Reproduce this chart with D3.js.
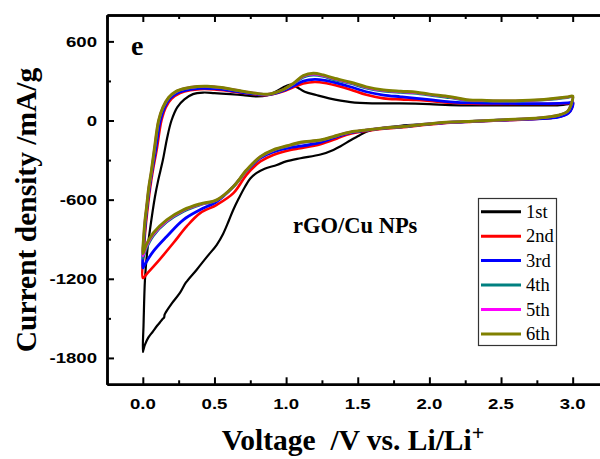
<!DOCTYPE html>
<html><head><meta charset="utf-8">
<script src="https://cdn.jsdelivr.net/npm/d3@7"></script>
<style>html,body{margin:0;padding:0;background:#fff;}svg{display:block;}</style>
</head><body><svg id="chart" width="600" height="459"></svg>
<script>
// ---------- data ----------
const xMajorTicks = [0.0, 0.5, 1.0, 1.5, 2.0, 2.5, 3.0];
const xMinorTicks = [-0.25, 0.25, 0.75, 1.25, 1.75, 2.25, 2.75, 3.25];
const yMajorTicks = [-1800, -1200, -600, 0, 600];
const yMinorTicks = [-1500, -900, -300, 300];
const seriesNames = ["1st", "2nd", "3rd", "4th", "5th", "6th"];

const c1Cath = [[3.0,140],[2.99,85],[2.95,45],[2.87,22],[2.7,10],[2.49,2],[2.3,-8],[2.145,-15],[2.0,-27],[1.8,-40],[1.65,-60],[1.56,-85],[1.5,-120],[1.45,-150],[1.38,-195],[1.33,-223],[1.24,-258],[1.1,-286],[1.0,-310],[0.935,-337],[0.85,-365],[0.795,-397],[0.75,-440],[0.714,-500],[0.67,-590],[0.63,-680],[0.6,-760],[0.56,-860],[0.516,-942],[0.45,-1030],[0.376,-1131],[0.3,-1230],[0.26,-1305],[0.2,-1390],[0.16,-1455],[0.152,-1472],[0.148,-1495],[0.138,-1505],[0.12,-1530],[0.097,-1560],[0.07,-1600],[0.038,-1646],[0.015,-1700],[0.004,-1740],[0.0,-1755]];
const c1Anod = [[0.005,-1550],[0.015,-1206],[0.03,-1000],[0.05,-828],[0.085,-576],[0.108,-450],[0.14,-300],[0.17,-130],[0.2,0],[0.24,100],[0.29,160],[0.35,200],[0.42,212],[0.5,208],[0.61,200],[0.7,192],[0.795,183],[0.87,192],[0.93,220],[1.0,262],[1.04,272],[1.08,250],[1.13,218],[1.21,193],[1.3,168],[1.45,140],[1.6,130],[1.79,130],[2.0,125],[2.145,117],[2.4,115],[2.7,115],[2.91,117],[2.98,128]];

const c2Cath = [[3.0,140],[2.995,97],[2.97,58],[2.9,28],[2.84,20],[2.7,10],[2.49,0],[2.3,-9],[2.145,-17],[2.0,-30],[1.8,-52],[1.65,-65],[1.56,-80],[1.45,-100],[1.38,-125],[1.33,-147],[1.24,-180],[1.1,-210],[1.03,-223],[0.91,-261],[0.82,-311],[0.725,-410],[0.632,-551],[0.516,-639],[0.4,-702],[0.306,-803],[0.213,-929],[0.097,-1080],[0.03,-1160],[0.0,-1194]];
const c2Anod = [[0.006,-1000],[0.02,-800],[0.035,-650],[0.05,-520],[0.07,-380],[0.097,-220],[0.13,0],[0.16,100],[0.2,165],[0.26,208],[0.33,230],[0.4,238],[0.5,236],[0.6,224],[0.7,208],[0.8,196],[0.87,193],[0.97,218],[1.05,252],[1.12,280],[1.2,292],[1.27,285],[1.35,265],[1.447,236],[1.56,195],[1.68,168],[1.8,160],[1.91,155],[2.0,148],[2.145,135],[2.3,128],[2.49,126],[2.7,125],[2.91,128],[2.98,133]];

const c3Cath = [[3.0,140],[2.995,95],[2.97,55],[2.9,25],[2.84,18],[2.7,10],[2.49,2],[2.3,-7],[2.145,-14],[2.0,-26],[1.8,-48],[1.65,-62],[1.56,-75],[1.45,-92],[1.38,-115],[1.33,-132],[1.24,-165],[1.1,-195],[1.03,-205],[0.91,-238],[0.82,-285],[0.725,-380],[0.632,-500],[0.516,-614],[0.4,-677],[0.283,-753],[0.167,-879],[0.073,-992],[0.02,-1080],[0.0,-1118]];
const c3Anod = [[0.006,-950],[0.018,-780],[0.03,-650],[0.045,-520],[0.065,-380],[0.09,-220],[0.122,0],[0.152,100],[0.19,168],[0.245,210],[0.32,234],[0.4,244],[0.5,241],[0.6,229],[0.7,212],[0.8,199],[0.87,195],[0.97,222],[1.05,262],[1.12,298],[1.2,312],[1.27,305],[1.35,285],[1.447,256],[1.56,218],[1.68,193],[1.8,180],[1.91,168],[2.0,158],[2.145,142],[2.3,133],[2.49,130],[2.7,128],[2.91,130],[2.98,135]];

const c4Cath = [[3.0,180],[2.99,122],[2.965,68],[2.9,38],[2.84,27],[2.7,14],[2.49,3],[2.3,-6],[2.145,-13],[2.0,-26],[1.8,-48],[1.65,-61],[1.56,-73],[1.45,-89],[1.38,-108],[1.33,-125],[1.24,-152],[1.1,-170],[1.03,-190],[0.91,-228],[0.82,-279],[0.725,-378],[0.632,-503],[0.516,-605],[0.4,-640],[0.283,-690],[0.167,-770],[0.073,-875],[0.025,-970],[0.0,-1045]];
const c4Anod = [[0.005,-930],[0.016,-770],[0.028,-655],[0.042,-520],[0.062,-380],[0.083,-220],[0.113,0],[0.143,100],[0.183,172],[0.235,218],[0.3,242],[0.38,255],[0.45,257],[0.55,247],[0.68,222],[0.8,203],[0.87,197],[0.98,232],[1.05,276],[1.12,328],[1.19,343],[1.26,333],[1.33,310],[1.45,280],[1.56,245],[1.68,222],[1.8,212],[1.91,205],[2.0,192],[2.145,172],[2.26,152],[2.4,147],[2.6,145],[2.8,155],[2.96,172]];

const c5Cath = [[3.0,183],[2.99,124],[2.965,69],[2.9,39],[2.84,28],[2.7,14],[2.49,3],[2.3,-6],[2.145,-12],[2.0,-25],[1.8,-47],[1.65,-60],[1.56,-72],[1.45,-88],[1.38,-106],[1.33,-123],[1.24,-150],[1.1,-167],[1.03,-187],[0.91,-225],[0.82,-276],[0.725,-376],[0.632,-501],[0.516,-603],[0.4,-636],[0.283,-683],[0.167,-762],[0.073,-864],[0.025,-955],[0.0,-1028]];
const c5Anod = [[0.005,-915],[0.015,-765],[0.027,-652],[0.041,-520],[0.061,-380],[0.081,-220],[0.111,0],[0.141,100],[0.181,174],[0.232,219],[0.3,244],[0.38,257],[0.45,259],[0.55,249],[0.68,224],[0.8,204],[0.87,198],[0.98,234],[1.05,279],[1.12,336],[1.19,352],[1.26,340],[1.33,317],[1.45,286],[1.56,251],[1.68,228],[1.8,218],[1.91,211],[2.0,197],[2.145,177],[2.26,156],[2.4,150],[2.6,148],[2.8,158],[2.96,176]];

const c6Cath = [[3.0,185],[2.99,125],[2.965,70],[2.9,40],[2.84,29],[2.7,15],[2.49,4],[2.3,-5],[2.145,-12],[2.0,-25],[1.8,-47],[1.65,-60],[1.56,-72],[1.45,-87],[1.38,-105],[1.33,-122],[1.24,-148],[1.1,-165],[1.03,-185],[0.91,-223],[0.82,-274],[0.725,-374],[0.632,-500],[0.516,-601],[0.4,-632],[0.283,-677],[0.167,-753],[0.073,-853],[0.025,-940],[0.0,-1010]];
const c6Anod = [[0.005,-900],[0.015,-760],[0.027,-650],[0.04,-520],[0.06,-380],[0.08,-220],[0.11,0],[0.14,100],[0.18,175],[0.23,220],[0.3,245],[0.38,258],[0.45,260],[0.55,250],[0.68,225],[0.8,205],[0.87,199],[0.98,235],[1.05,281],[1.12,340],[1.19,358],[1.26,345],[1.33,322],[1.45,290],[1.56,255],[1.68,232],[1.8,222],[1.91,215],[2.0,200],[2.145,180],[2.26,158],[2.4,152],[2.6,150],[2.8,160],[2.96,178]];

// ---------- styles ----------
const colors = ["#000000", "#ff0000", "#0000ff", "#008080", "#ff00ff", "#808000"];
const widths = [2.2, 2.6, 2.8, 2.6, 2.6, 3.0];

const cycles = [
  c1Cath.concat(c1Anod), c2Cath.concat(c2Anod), c3Cath.concat(c3Anod),
  c4Cath.concat(c4Anod), c5Cath.concat(c5Anod), c6Cath.concat(c6Anod)
];

const svg = d3.select("#chart");
const x = d3.scaleLinear().domain([-0.25, 3.25]).range([107, 608.5]);
const y = d3.scaleLinear().domain([-2000, 800]).range([384.3, 15]);

// curves
const line = d3.line().x(d => x(d[0])).y(d => y(d[1])).curve(d3.curveCatmullRomClosed.alpha(0.5));
svg.append("g").selectAll("path").data(cycles).join("path")
  .attr("d", line).attr("fill", "none")
  .attr("stroke", (d, i) => colors[i]).attr("stroke-width", (d, i) => widths[i])
  .attr("stroke-linejoin", "round");

// axes
function styleAxis(g) {
  g.select(".domain").attr("stroke", "#000").attr("stroke-width", 2.5);
  g.selectAll(".tick line").attr("stroke", "#000").attr("stroke-width", 2);
  g.selectAll(".tick text").remove();
}
svg.append("g").attr("transform", `translate(0,${y(-2000)})`)
  .call(d3.axisBottom(x).tickValues(xMajorTicks).tickSize(-7).tickSizeOuter(0).tickFormat("")).call(styleAxis);
svg.append("g").attr("transform", `translate(0,${y(-2000)})`)
  .call(d3.axisBottom(x).tickValues(xMinorTicks).tickSize(-4).tickSizeOuter(0).tickFormat("")).call(styleAxis);
svg.append("g").attr("transform", `translate(0,${y(800)})`)
  .call(d3.axisTop(x).tickValues(xMajorTicks).tickSize(-7).tickSizeOuter(0).tickFormat("")).call(styleAxis);
svg.append("g").attr("transform", `translate(0,${y(800)})`)
  .call(d3.axisTop(x).tickValues(xMinorTicks).tickSize(-4).tickSizeOuter(0).tickFormat("")).call(styleAxis);
svg.append("g").attr("transform", `translate(${x(-0.25)},0)`)
  .call(d3.axisLeft(y).tickValues(yMajorTicks).tickSize(-7).tickSizeOuter(0).tickFormat("")).call(styleAxis);
svg.append("g").attr("transform", `translate(${x(-0.25)},0)`)
  .call(d3.axisLeft(y).tickValues(yMinorTicks).tickSize(-4).tickSizeOuter(0).tickFormat("")).call(styleAxis);
svg.append("g").attr("transform", `translate(${x(3.25)},0)`)
  .call(d3.axisRight(y).tickValues(yMajorTicks).tickSize(-7).tickSizeOuter(0).tickFormat("")).call(styleAxis);

function label(px, py, str, opts) {
  const t = svg.append("text")
    .attr("transform", `translate(${px},${py}) ${opts.rot ? "rotate(" + opts.rot + ")" : ""} scale(${opts.sx || 1},1)`)
    .attr("font-family", opts.family || "'Liberation Sans', Arial, sans-serif")
    .attr("font-weight", opts.weight || "bold")
    .attr("font-size", opts.size)
    .attr("text-anchor", opts.anchor || "start")
    .attr("fill", "#000")
    .style("white-space", "pre")
    .text(str);
  return t;
}

// tick labels
xMajorTicks.forEach(v => label(x(v), 408.5, d3.format(".1f")(v), {size: 15.5, sx: 1.2, anchor: "middle"}));
yMajorTicks.forEach(v => label(97, y(v) + 5.5, String(v), {size: 15.5, sx: 1.2, anchor: "end"}));

// titles
const serif = "'Liberation Serif', 'Times New Roman', serif";
const xt = label(353, 450, "Voltage  /V vs. Li/Li", {size: 29.5, anchor: "middle", family: serif});
xt.append("tspan").attr("font-size", 22).attr("dy", -10).text("+");
label(36, 210, "Current density /mA/g", {size: 29.5, anchor: "middle", family: serif, rot: -90});
label(131, 55, "e", {size: 28, family: serif});
label(293, 233, "rGO/Cu NPs", {size: 22.5, family: serif});

// legend
const lg = svg.append("g");
lg.append("rect").attr("x", 478.5).attr("y", 198.5).attr("width", 78).attr("height", 147)
  .attr("fill", "#fff").attr("stroke", "#333").attr("stroke-width", 1.2);
const rowY = d3.scaleLinear().domain([0, 5]).range([211.7, 334]);
seriesNames.forEach((n, i) => {
  lg.append("line").attr("x1", 481).attr("x2", 521).attr("y1", rowY(i)).attr("y2", rowY(i))
    .attr("stroke", colors[i]).attr("stroke-width", 3);
  lg.append("text").attr("x", 526).attr("y", rowY(i) + 6).attr("font-family", serif)
    .attr("font-size", 18.5).attr("fill", "#000").text(n);
});
</script></body></html>
